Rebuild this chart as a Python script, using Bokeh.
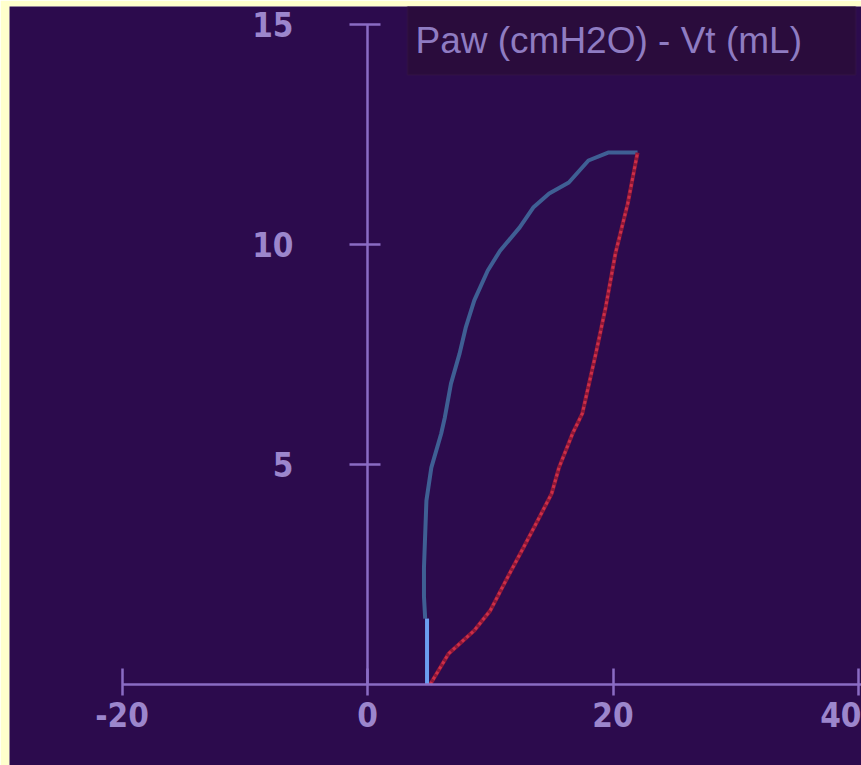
from bokeh.plotting import figure
from bokeh.models import LinearAxis, FixedTicker, Range1d, Label, BoxAnnotation
from bokeh.embed import file_html
from bokeh.resources import INLINE

# ---- data (Paw in cmH2O on x, Vt in mL on y) ----
x_ticks = [-20, 0, 20, 40]
x_tick_labels = {-20: "-20", 0: "0", 20: "20", 40: "40"}
y_ticks = [5, 10, 15]

# expiratory limb (blue), from bottom to top
blue_paw = [4.7, 4.6, 4.6, 4.8, 5.2, 6.0, 6.3, 6.8, 7.5, 8.0, 8.7, 9.8, 10.8,
            12.4, 13.5, 14.8, 16.4, 18.0, 19.6, 22.0]
blue_vt = [1.5, 2.0, 2.66, 4.18, 4.93, 5.7, 6.07, 6.84, 7.52, 8.11, 8.73, 9.41,
           9.86, 10.39, 10.84, 11.16, 11.41, 11.91, 12.09, 12.09]

# inspiratory limb (red), from bottom to top
red_paw = [5.1, 6.6, 8.7, 10.0, 11.4, 12.7, 14.0, 15.0, 15.6, 16.7, 17.5,
           18.6, 19.4, 20.2, 21.2, 22.0]
red_vt = [0.0, 0.7, 1.23, 1.68, 2.43, 3.11, 3.8, 4.34, 4.93, 5.7, 6.16,
          7.52, 8.57, 9.80, 10.93, 12.09]

# short trigger segment (light blue)
trig_paw = [4.85, 4.85]
trig_vt = [0.0, 1.5]

title_text = "Paw (cmH2O) - Vt (mL)"

BG = "#2c0b4d"
AXIS = "#8a6cc4"
LABEL = "#9c86cc"

p = figure(width=861, height=765, output_backend="svg", toolbar_location=None,
           x_axis_type=None, y_axis_type=None,
           x_range=Range1d(-29.165, 40.244), y_range=Range1d(-1.84, 15.41),
           background_fill_color=BG, border_fill_color="#ffffcc",
           min_border_left=9, min_border_top=6, min_border_right=0,
           min_border_bottom=0, outline_line_color=None)

def style_axis(ax, tick_in, tick_out, standoff):
    ax.axis_line_color = AXIS
    ax.axis_line_width = 2.5
    ax.major_tick_line_color = AXIS
    ax.major_tick_line_width = 2.5
    ax.major_tick_in = tick_in
    ax.major_tick_out = tick_out
    ax.minor_tick_line_color = None
    ax.major_label_text_color = LABEL
    ax.major_label_text_font = "DejaVu Sans Condensed"
    ax.major_label_text_font_size = "33px"
    ax.major_label_text_font_style = "bold"
    ax.major_label_standoff = standoff

xaxis = LinearAxis(fixed_location=0, ticker=FixedTicker(ticks=x_ticks),
                   bounds=(-20, 40.244), major_label_overrides=x_tick_labels)
style_axis(xaxis, 16, 11, 6)
p.add_layout(xaxis, "below")

yaxis = LinearAxis(fixed_location=0, ticker=FixedTicker(ticks=y_ticks),
                   bounds=(0, 15))
style_axis(yaxis, 13, 18, 56)
p.add_layout(yaxis, "left")

# title box
box = BoxAnnotation(left=3.26, right=39.76, bottom=13.86, top=15.6,
                    fill_color="#2a0c3c", fill_alpha=1.0,
                    line_color="#3a1d46", line_width=2, level="overlay")
p.add_layout(box)
lab = Label(x=3.91, y=14.64, text=title_text, text_color="#8f7cc2",
            text_font="Liberation Sans", text_font_size="37px",
            text_baseline="middle", text_align="left", level="overlay")
p.add_layout(lab)

# curves
p.line(blue_paw, blue_vt, line_color="#3f5f94", line_width=4)
p.line(red_paw, red_vt, line_color="#8e1838", line_width=4)
p.line(red_paw, red_vt, line_color="#cc2e48", line_width=3, line_dash="3 3")
p.line(trig_paw, trig_vt, line_color="#6b9ff0", line_width=4)

open("out.html", "w").write(file_html(p, INLINE))
